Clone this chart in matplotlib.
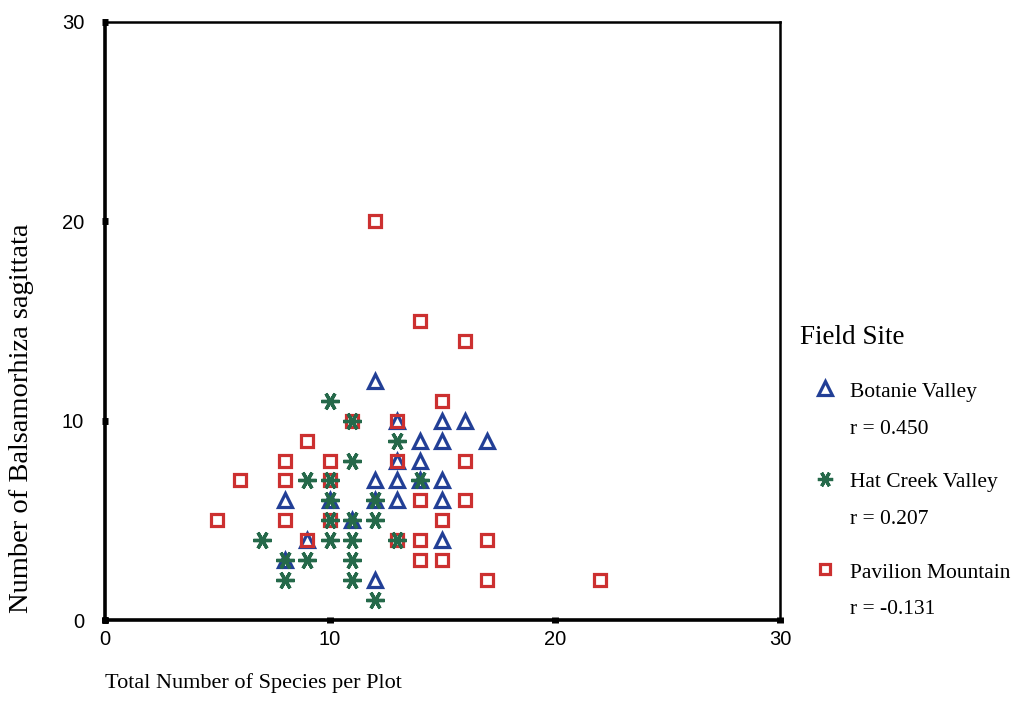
import matplotlib.pyplot as plt
from matplotlib.lines import Line2D

# Botanie Valley (triangles)
bv_x = [12, 13, 15, 16, 14, 15, 17, 13, 14, 12, 13, 14, 15, 8, 10, 12, 13, 15, 11, 9, 15, 8, 12]
bv_y = [12, 10, 10, 10, 9, 9, 9, 8, 8, 7, 7, 7, 7, 6, 6, 6, 6, 6, 5, 4, 4, 3, 2]

# Hat Creek Valley (asterisks)
hc_x = [10, 11, 13, 11, 9, 10, 14, 10, 12, 10, 11, 12, 7, 10, 11, 13, 8, 9, 11, 8, 11, 12]
hc_y = [11, 10, 9, 8, 7, 7, 7, 6, 6, 5, 5, 5, 4, 4, 4, 4, 3, 3, 3, 2, 2, 1]

# Pavilion Mountain (squares)
pm_x = [12, 14, 16, 15, 11, 13, 9, 8, 10, 13, 16, 6, 8, 10, 14, 16, 5, 8, 10, 15, 9, 13, 14, 17, 14, 15, 17, 22]
pm_y = [20, 15, 14, 11, 10, 10, 9, 8, 8, 8, 8, 7, 7, 7, 6, 6, 5, 5, 5, 5, 4, 4, 4, 4, 3, 3, 2, 2]

site_names = ["Botanie Valley", "Hat Creek Valley", "Pavilion Mountain"]
site_r = ["r = 0.450", "r = 0.207", "r = -0.131"]

blue = "#223f96"
green = "#25694a"
red = "#cc3030"
star = (6, 2, 90)

fig = plt.figure(figsize=(10.15, 7.26), dpi=100)
ax = fig.add_axes([0.1034, 0.146, 0.6651, 0.8237])

ax.plot(bv_x, bv_y, linestyle="none", marker="^", ms=10.5, mfc="none",
        mec=blue, mew=2.3)
ax.plot(pm_x, pm_y, linestyle="none", marker="s", ms=8, mfc="none",
        mec=red, mew=2.3)
ax.plot(hc_x, hc_y, linestyle="none", marker=star, ms=13, mfc="none",
        mec=green, mew=2.4)

ax.set_xlim(0, 30)
ax.set_ylim(0, 30)
ax.set_xticks([0, 10, 20, 30])
ax.set_yticks([0, 10, 20, 30])
ax.tick_params(direction="inout", length=4, width=5, labelsize=14.5)
ax.tick_params(axis="x", pad=5)
ax.tick_params(axis="y", pad=13)
for lab in ax.get_xticklabels() + ax.get_yticklabels():
    lab.set_family("Liberation Sans")
for s in ["left", "bottom"]:
    ax.spines[s].set_linewidth(2.6)
for s in ["top", "right"]:
    ax.spines[s].set_linewidth(1.8)

serif = "Liberation Serif"
fig.text(105 / 1015, 1 - 683 / 726, "Total Number of Species per Plot",
         family=serif, fontsize=16, ha="left", va="center")
fig.text(22 / 1015, 1 - 418 / 726, "Number of Balsamorhiza sagittata",
         family=serif, fontsize=20.5, rotation=90, ha="center", va="center")

# legend drawn by hand
fig.text(800 / 1015, 1 - 337 / 726, "Field Site", family=serif,
         fontsize=19.5, ha="left", va="center")
markers = [("^", blue, 9.5), (star, green, 11), ("s", red, 7)]
name_y = [392, 483, 573]
for (m, c, ms), name, r, yy in zip(markers, site_names, site_r, name_y):
    fig.add_artist(Line2D([825 / 1015], [1 - (yy - 4) / 726], marker=m,
                          ms=ms, mfc="none", mec=c, mew=2.3,
                          linestyle="none", transform=fig.transFigure))
    fig.text(850 / 1015, 1 - yy / 726, name, family=serif, fontsize=15.5,
             ha="left", va="center")
    fig.text(850 / 1015, 1 - (yy + 37) / 726, r, family=serif, fontsize=15.5,
             ha="left", va="center")

fig.savefig("out.png", dpi=100)
